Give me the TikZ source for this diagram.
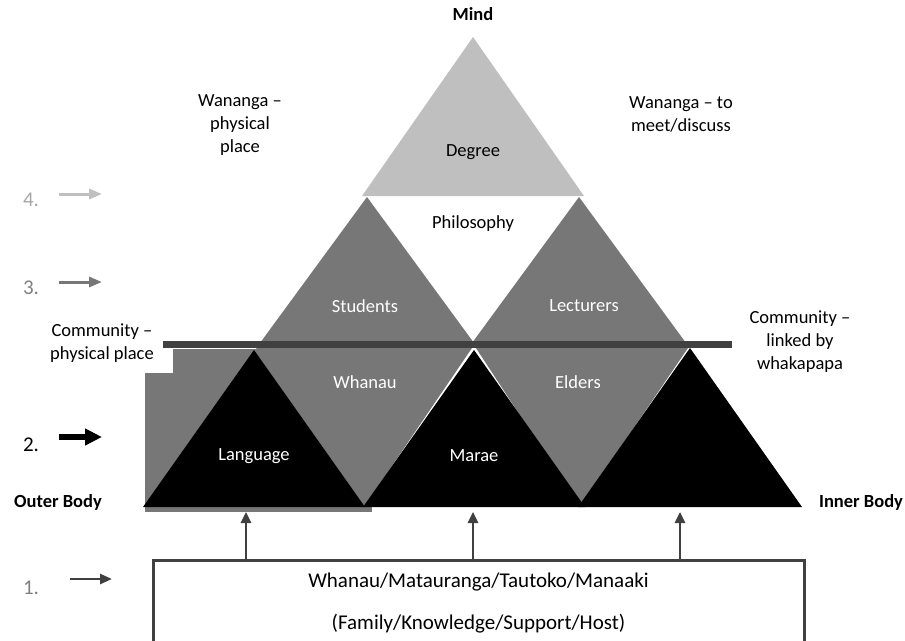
\documentclass[tikz,border=0pt]{standalone}
\usepackage{fontspec}
\setmainfont{Carlito}
\usepackage{xcolor}
\usepackage{tikz}
\usetikzlibrary{positioning,arrows.meta}
\definecolor{TopGray}{HTML}{BFBFBF}
\definecolor{MidGray}{HTML}{777777}
\definecolor{BarGray}{HTML}{404040}
\definecolor{NumGray}{HTML}{808080}
\definecolor{LightNum}{HTML}{A6A6A6}
\tikzset{
  lbl/.style={font=\fontsize{18.5}{23}\selectfont, align=center, inner sep=0pt},
  inlbl/.style={lbl, text=white},
  boldlbl/.style={lbl, font=\fontsize{18.5}{23}\selectfont\bfseries},
  numlbl/.style={lbl, font=\fontsize{21}{24}\selectfont},
  sidearrow/.style={line width=3pt, -{Triangle[length=13pt,width=10pt]}},
  uparrow/.style={BarGray, line width=2.5pt, -{Triangle[length=11pt,width=10pt]}},
}

\begin{document}
\begin{tikzpicture}[x=1pt,y=-1pt]
      \useasboundingbox (0,0) rectangle (905,640);
      % outer body block and its label
      \fill[MidGray] (145,349) rectangle (372,512);
      \node[lbl, fill=white, inner xsep=19pt, inner ysep=11pt] (comL) at (102,343) {Community –\\physical place};
      % mind
      \fill[TopGray] (473,37) -- (362,196) -- (584,196) -- cycle;
      % students / lecturers
      \fill[MidGray] (367,197) -- (260,343) -- (474,343) -- cycle;
      \fill[MidGray] (579,197) -- (472,343) -- (686,343) -- cycle;
      % whanau / elders
      \fill[MidGray] (254,345) -- (474,345) -- (364,507) -- cycle;
      \fill[MidGray] (474,345) -- (690,345) -- (580,507) -- cycle;
      % body
      \fill[black] (254,350) -- (143,507) -- (365,507) -- cycle;
      \fill[black] (474,350) -- (363,507) -- (585,507) -- cycle;
      \fill[black] (690,348) -- (578,507) -- (802,507) -- cycle;
      \fill[BarGray] (163,341) rectangle (732,348);

      \node[boldlbl] (mind) at (473,14) {Mind};
      \node[lbl] (wanL) at (240,125) {Wananga –\\physical\\place};
      \node[lbl] (wanR) at (681,114) {Wananga – to\\meet/discuss};
      \node[lbl] (degree) at (473,152) {Degree};
      \node[lbl] (philo) at (473,224) {Philosophy};
      \node[inlbl] (students) at (365,306) {Students};
      \node[inlbl] (lecturers) at (584,306) {Lecturers};
      \node[inlbl] (whanau) at (365,382) {Whanau};
      \node[inlbl] (elders) at (578,382) {Elders};
      \node[inlbl] (language) at (254,456) {Language};
      \node[inlbl] (marae) at (474,456) {Marae};
      \node[lbl] (comR) at (800,342) {Community –\\linked by\\whakapapa};
      \node[boldlbl] (outer) at (58,502) {Outer Body};
      \node[boldlbl] (inner) at (861,502) {Inner Body};

      \node[numlbl, text=LightNum] (n4) at (31,200) {4.};
      \node[numlbl, text=NumGray] (n3) at (31,288) {3.};
      \node[numlbl] (n2) at (31,445) {2.};
      \node[numlbl, text=NumGray] (n1) at (31,588) {1.};
      \coordinate (a4s) at (59,194);  \coordinate (a4e) at (102,194);
      \coordinate (a3s) at (59,282);  \coordinate (a3e) at (102,282);
      \coordinate (a2s) at (59,437);  \coordinate (a2e) at (102,437);
      \coordinate (a1s) at (70,579);  \coordinate (a1e) at (112,579);
      \draw[sidearrow, TopGray] (a4s) -- (a4e);
      \draw[sidearrow, MidGray] (a3s) -- (a3e);
      \draw[sidearrow, black, line width=6pt, -{Triangle[length=17pt,width=16pt]}] (a2s) -- (a2e);
      \draw[sidearrow, BarGray, line width=2.5pt, -{Triangle[length=12pt,width=10pt]}] (a1s) -- (a1e);

      \node[draw=BarGray, line width=3pt, minimum width=651pt, minimum height=86pt,
            align=center, font=\fontsize{21}{42}\selectfont] (base) at (478.5,603)
            {Whanau/Matauranga/Tautoko/Manaaki\\(Family/Knowledge/Support/Host)};
      \coordinate (upL) at (246,512);
      \coordinate (upM) at (473,512);
      \coordinate (upR) at (680,512);
      \draw[uparrow] (base.north -| upL) -- (upL);
      \draw[uparrow] (base.north -| upM) -- (upM);
      \draw[uparrow] (base.north -| upR) -- (upR);
    \end{tikzpicture}
\end{document}
